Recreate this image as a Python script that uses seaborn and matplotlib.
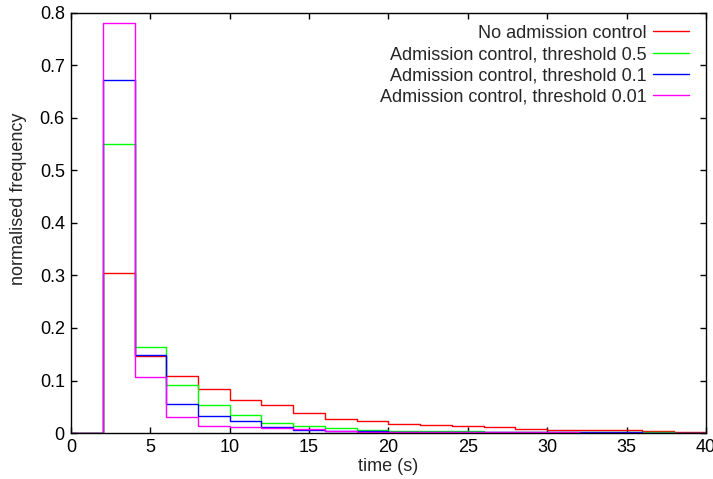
import numpy as np
import pandas as pd
import matplotlib
matplotlib.use("Agg")
import matplotlib.pyplot as plt
from matplotlib.ticker import FuncFormatter, MultipleLocator
from matplotlib.lines import Line2D
import seaborn as sns

# bin edges (s); first bin 0-2 is empty
bin_edges = list(range(0, 42, 2))

series_names = [
    "No admission control",
    "Admission control, threshold 0.5",
    "Admission control, threshold 0.1",
    "Admission control, threshold 0.01",
]
series_colors = ["#ff0000", "#00ff00", "#0000ff", "#ff00ff"]

no_control = [0.0, 0.305, 0.146, 0.108, 0.083, 0.063, 0.053, 0.038, 0.027, 0.022, 0.017,
              0.015, 0.014, 0.012, 0.0083, 0.0057, 0.005, 0.005, 0.004, 0.0015]
thr_05 = [0.0, 0.550, 0.164, 0.092, 0.053, 0.034, 0.020, 0.013, 0.009, 0.006, 0.004,
          0.004, 0.004, 0.002, 0.002, 0.0015, 0.0012, 0.001, 0.001, 0.0008]
thr_01 = [0.0, 0.672, 0.149, 0.055, 0.033, 0.022, 0.011, 0.006, 0.004, 0.003, 0.0025,
          0.002, 0.002, 0.002, 0.0015, 0.0012, 0.001, 0.001, 0.0008, 0.0006]
thr_001 = [0.0, 0.780, 0.107, 0.030, 0.014, 0.011, 0.009, 0.007, 0.003, 0.002, 0.002,
           0.0015, 0.0015, 0.001, 0.001, 0.001, 0.0008, 0.0008, 0.0006, 0.0005]
series_values = [no_control, thr_05, thr_01, thr_001]

sns.set_theme(style="white")
plt.rcParams["font.family"] = ["Liberation Sans", "DejaVu Sans"]
FS = 13
plt.rcParams["font.size"] = FS

fig = plt.figure(figsize=(7.13, 4.79), dpi=100)
ax = fig.add_axes([0.0996, 0.096, 0.8904, 0.877])

centers = [(a + b) / 2 for a, b in zip(bin_edges[:-1], bin_edges[1:])]
for name, vals, col in zip(series_names, series_values, series_colors):
    df = pd.DataFrame({"time": centers, "freq": vals})
    sns.histplot(data=df, x="time", weights="freq", bins=bin_edges,
                 element="step", fill=False, color=col, linewidth=1.0, ax=ax)

ax.set_xlim(0, 40)
ax.set_ylim(0, 0.8)
ax.xaxis.set_major_locator(MultipleLocator(5))
ax.yaxis.set_major_locator(MultipleLocator(0.1))
fmt = FuncFormatter(lambda v, p: "%g" % round(v, 3))
ax.xaxis.set_major_formatter(fmt)
ax.yaxis.set_major_formatter(fmt)
ax.tick_params(direction="in", length=4, width=1, top=True, right=True,
               bottom=True, left=True, labelsize=FS, colors="black")
ax.tick_params(axis="x", pad=4)
ax.tick_params(axis="y", pad=4.5)
for s in ax.spines.values():
    s.set_color("black")
    s.set_linewidth(1.0)
    s.set_zorder(5)
ax.set_xlabel("time (s)", fontsize=FS)
ax.set_ylabel("normalised frequency", fontsize=FS)
ax.xaxis.set_label_coords(0.5, -0.08)
ax.xaxis.label.set_va("center")
ax.yaxis.set_label_coords(-0.0835, 0.557)
ax.yaxis.label.set_va("center")

handles = [Line2D([], [], color=c, lw=1.0) for c in series_colors]
leg = ax.legend(handles, series_names, loc="upper right", markerfirst=False,
                frameon=False, fontsize=FS, handlelength=2.0, handletextpad=0.35,
                labelspacing=0.24, borderaxespad=0.0, borderpad=0.0,
                bbox_to_anchor=(0.973, 0.972))

fig.savefig("out.png", dpi=100)
